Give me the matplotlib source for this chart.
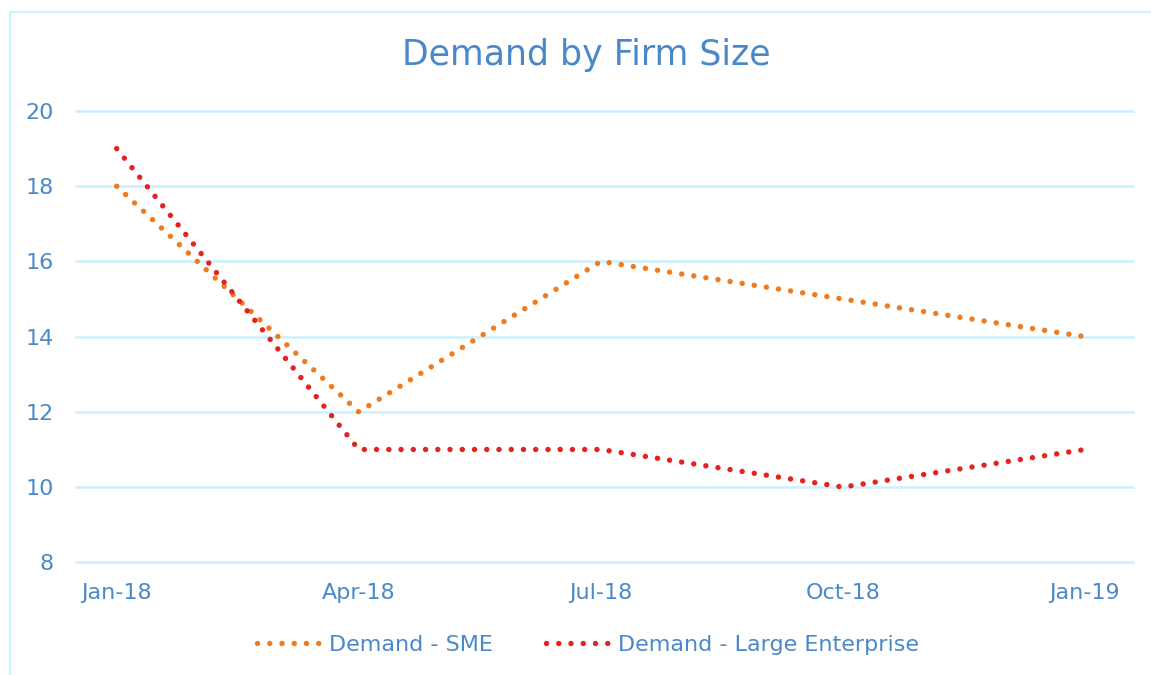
import matplotlib
matplotlib.use("Agg")
import matplotlib.pyplot as plt
from matplotlib.patches import Rectangle

# data
months = [0, 3, 6, 9, 12]
tick_labels = ["Jan-18", "Apr-18", "Jul-18", "Oct-18", "Jan-19"]
sme = [18, 12, 16, 15, 14]
large = [19, 11, 11, 10, 11]
y_ticks = [8, 10, 12, 14, 16, 18, 20]

text_col = "#4A89C9"
grid_col = "#CCF0FD"
orange = "#F07B1F"
red = "#E4231F"

plt.rcParams["font.family"] = ["DejaVu Sans"]

fig = plt.figure(figsize=(11.51, 6.75), dpi=100)
ax = fig.add_axes([76 / 1151, 1 - 562.3 / 675, (1133 - 76) / 1151, (562.3 - 111) / 675])

# chart area border (only the left and top edges are visible)
fig.patches.append(Rectangle((10 / 1151, -0.1), 1.2, 1 - 12 / 675 + 0.1,
                             transform=fig.transFigure, fill=False,
                             edgecolor=grid_col, linewidth=1.6))

dots = (0, (0.01, 2.25))
ax.plot(months, sme, color=orange, lw=3.9, linestyle=dots,
        dash_capstyle="round", label="Demand - SME")
ax.plot(months, large, color=red, lw=3.9, linestyle=dots,
        dash_capstyle="round", label="Demand - Large Enterprise")

ax.set_ylim(8, 20)
ax.set_xlim(-0.504, 12.595)
ax.set_yticks(y_ticks)
ax.set_xticks(months)
ax.set_xticklabels(tick_labels)

for s in ax.spines.values():
    s.set_visible(False)
ax.grid(axis="y", color=grid_col, linewidth=1.8)
for gl in ax.get_ygridlines():
    gl.set_clip_on(False)
ax.set_axisbelow(True)
ax.tick_params(axis="both", length=0, labelsize=16, labelcolor=text_col)
ax.tick_params(axis="y", pad=16)
ax.tick_params(axis="x", pad=15)

fig.text(586 / 1151, 1 - 55 / 675, "Demand by Firm Size", ha="center", va="center",
         fontsize=25, color=text_col)

leg = fig.legend(loc="center", bbox_to_anchor=(588 / 1151, 1 - 645 / 675), ncol=2,
                 frameon=False, fontsize=16, handlelength=2.9, handletextpad=0.35,
                 columnspacing=2.4)
for t in leg.get_texts():
    t.set_color(text_col)

fig.savefig("out.png", dpi=100)
